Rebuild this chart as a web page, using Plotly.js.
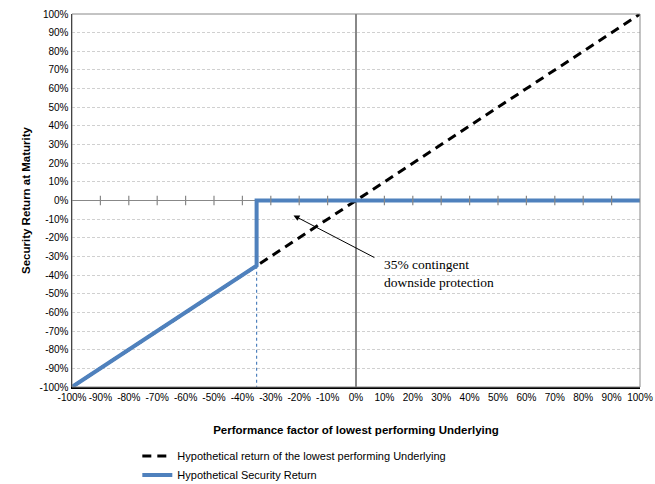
<!DOCTYPE html>
<html>
<head>
<meta charset="utf-8">
<script src="https://cdn.plot.ly/plotly-3.0.1.min.js"></script>
<style>body{margin:0;background:#fff}#chart{width:655px;height:484px}</style>
</head>
<body>
<div id="chart"></div>
<script>
// Payoff data (percent)
const underlyingX = [-100, 100];
const underlyingY = [-100, 100];
const securityX = [-100, -35, -35, 100];
const securityY = [-100, -35, 0, 0];
const barrierX = [-35, -35];
const barrierY = [-35, -100];
const tickVals = [-100, -90, -80, -70, -60, -50, -40, -30, -20, -10, 0, 10, 20, 30, 40, 50, 60, 70, 80, 90, 100];

const blue = '#4f81bd';
const traces = [
    { x: barrierX, y: barrierY, mode: 'lines', line: { color: blue, width: 1.2, dash: 'dot' }, showlegend: false, hoverinfo: 'skip' },
    { x: underlyingX, y: underlyingY, mode: 'lines', name: 'Hypothetical return of the lowest performing Underlying',
      line: { color: '#000', width: 3, dash: '9px,6px' } },
    { x: securityX, y: securityY, mode: 'lines', name: 'Hypothetical Security Return',
      line: { color: blue, width: 4 } }
];

const layout = {
    width: 655, height: 484,
    margin: { l: 72, r: 15, t: 14, b: 97 },
    paper_bgcolor: '#fff', plot_bgcolor: '#fff',
    font: { family: 'Liberation Sans, Arial', size: 10, color: '#000' },
    xaxis: {
        range: [-100, 100], tickvals: tickVals, ticktext: tickVals.map(v => v + '%'),
        showgrid: false, zeroline: true, zerolinecolor: '#888', zerolinewidth: 1.5,
        showline: true, linecolor: '#000', linewidth: 1.5, mirror: false,
        tickangle: 0, ticks: '',
        title: { text: '<b>Performance factor of lowest performing Underlying</b>', font: { size: 11.5 }, standoff: 24 }
    },
    yaxis: {
        range: [-100, 100], tickvals: tickVals, ticktext: tickVals.map(v => v + '%'),
        gridcolor: '#d0d0d0', griddash: '3px,2px', gridwidth: 1,
        zeroline: true, zerolinecolor: '#888', zerolinewidth: 1.5,
        showline: true, linecolor: '#000', linewidth: 1.5, ticks: '',
        title: { text: '<b>Security Return at Maturity</b>', font: { size: 11.5 }, standoff: 6 }
    },
    shapes: [
        { type: 'rect', xref: 'paper', yref: 'paper', x0: 0, x1: 1, y0: 0, y1: 1, line: { color: '#888', width: 1 } },
        // small tick marks along zero line
        ...tickVals.filter(v => v !== 0 && v !== -100 && v !== 100).map(v => ({
            type: 'line', x0: v, x1: v, y0: -2.5, y1: 2.5, line: { color: '#888', width: 1.2 }
        }))
    ],
    annotations: [
        { x: -22, y: -8, ax: 7, ay: -31, axref: 'x', ayref: 'y', showarrow: true, arrowhead: 2, arrowsize: 1.2,
          arrowwidth: 1, arrowcolor: '#000', text: '' },
        { x: 9, y: -29, xanchor: 'left', yanchor: 'top', showarrow: false, align: 'left',
          text: '35% contingent<br>downside protection',
          font: { family: 'Liberation Serif, Times New Roman', size: 13.5, color: '#000' } }
    ],
    legend: { x: 0.115, y: 0.088, xref: 'paper', yref: 'container', xanchor: 'left', yanchor: 'top', font: { size: 11 }, tracegroupgap: 0 },
    showlegend: true
};

Plotly.newPlot('chart', traces, layout, { displayModeBar: false, staticPlot: true });
</script>
</body>
</html>
